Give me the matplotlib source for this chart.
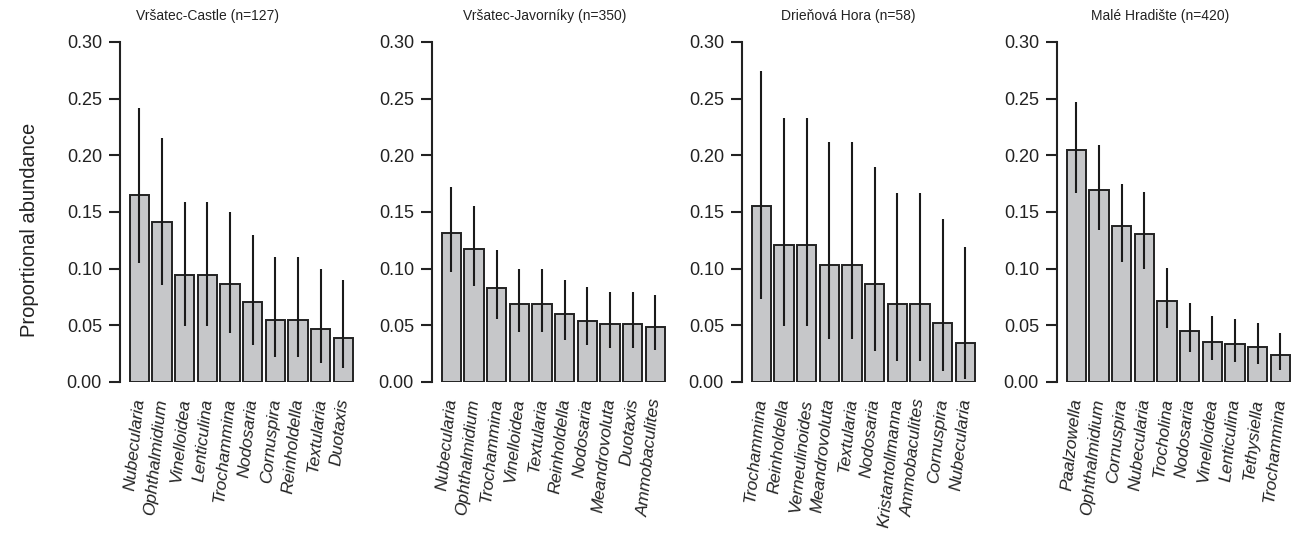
import matplotlib
matplotlib.use("Agg")
import matplotlib.pyplot as plt
import numpy as np

plt.rcParams['font.family'] = ['Liberation Sans', 'DejaVu Sans']

titles = ["Vršatec-Castle (n=127)", "Vršatec-Javorníky (n=350)",
          "Drieňová Hora (n=58)", "Malé Hradište (n=420)"]

genera_castle = ["Nubecularia", "Ophthalmidium", "Vinelloidea", "Lenticulina", "Trochammina",
                 "Nodosaria", "Cornuspira", "Reinholdella", "Textularia", "Duotaxis"]
mean_castle = [0.165, 0.1415, 0.0945, 0.0945, 0.0866, 0.0705, 0.0548, 0.0548, 0.0468, 0.039]
lo_castle = [0.105, 0.0855, 0.0493, 0.0493, 0.0432, 0.0323, 0.0217, 0.0217, 0.017, 0.012]
hi_castle = [0.242, 0.215, 0.159, 0.159, 0.150, 0.130, 0.110, 0.110, 0.100, 0.090]

genera_javor = ["Nubecularia", "Ophthalmidium", "Trochammina", "Vinelloidea", "Textularia",
                "Reinholdella", "Nodosaria", "Meandrovoluta", "Duotaxis", "Ammobaculites"]
mean_javor = [0.1315, 0.117, 0.083, 0.0685, 0.0685, 0.0597, 0.054, 0.0513, 0.0513, 0.0485]
lo_javor = [0.0972, 0.0845, 0.0555, 0.0437, 0.0437, 0.0367, 0.0323, 0.030, 0.030, 0.028]
hi_javor = [0.1717, 0.1556, 0.1168, 0.1001, 0.1001, 0.0904, 0.0837, 0.0798, 0.0798, 0.077]

genera_drien = ["Trochammina", "Reinholdella", "Verneulinoides", "Meandrovoluta", "Textularia",
                "Nodosaria", "Kristantollmanna", "Ammobaculites", "Cornuspira", "Nubecularia"]
mean_drien = [0.155, 0.1205, 0.1205, 0.1034, 0.1034, 0.0862, 0.069, 0.069, 0.0517, 0.0345]
lo_drien = [0.0731, 0.0493, 0.0493, 0.0379, 0.0379, 0.0276, 0.0182, 0.0182, 0.0097, 0.003]
hi_drien = [0.2745, 0.233, 0.233, 0.212, 0.212, 0.190, 0.167, 0.167, 0.144, 0.119]

genera_hrad = ["Paalzowella", "Ophthalmidium", "Cornuspira", "Nubecularia", "Trocholina",
               "Nodosaria", "Vinelloidea", "Lenticulina", "Tethysiella", "Trochammina"]
mean_hrad = [0.2048, 0.169, 0.138, 0.131, 0.0714, 0.045, 0.0357, 0.0333, 0.031, 0.0238]
lo_hrad = [0.1667, 0.1338, 0.1059, 0.0997, 0.0476, 0.0265, 0.0191, 0.0174, 0.0159, 0.0106]
hi_hrad = [0.247, 0.2088, 0.175, 0.1676, 0.1006, 0.0697, 0.0585, 0.0553, 0.0524, 0.0432]

panels = [
    (genera_castle, mean_castle, lo_castle, hi_castle),
    (genera_javor, mean_javor, lo_javor, hi_javor),
    (genera_drien, mean_drien, lo_drien, hi_drien),
    (genera_hrad, mean_hrad, lo_hrad, hi_hrad),
]

W, H = 1303, 552
fig = plt.figure(figsize=(W / 100, H / 100), dpi=100)

lefts_px = [120, 432, 742, 1057]
title_x_px = [208, 545, 848, 1160]
top_px, bot_px = 42, 382
width_px = 237

for i, (names, mean, lo, hi) in enumerate(panels):
    ax = fig.add_axes([lefts_px[i] / W, 1 - bot_px / H, width_px / W, (bot_px - top_px) / H])
    x = np.arange(len(names))
    ax.bar(x, mean, width=0.86, color="#c6c7c9", edgecolor="#222222", linewidth=1.4, zorder=2)
    ax.vlines(x, lo, hi, color="#1a1a1a", linewidth=1.5, zorder=3)
    ax.set_xlim(-0.85, 9.6)
    ax.set_ylim(0, 0.30)
    ax.set_yticks([0.0, 0.05, 0.10, 0.15, 0.20, 0.25, 0.30])
    ax.set_yticklabels(["0.00", "0.05", "0.10", "0.15", "0.20", "0.25", "0.30"])
    for s in ["top", "right", "bottom"]:
        ax.spines[s].set_visible(False)
    ax.spines["left"].set_linewidth(1.5)
    ax.spines["left"].set_color("#222222")
    ax.tick_params(axis="y", direction="out", length=8, width=1.5, color="#222222",
                   labelsize=13, pad=5, labelcolor="#222222")
    ax.set_xticks(x)
    ax.set_xticklabels(names, rotation=84, ha="right", va="center", rotation_mode="anchor",
                       fontstyle="italic", fontsize=12.5, color="#222222")
    ax.tick_params(axis="x", length=0, pad=12)
    ax.patch.set_visible(False)
    fig.text(title_x_px[i] / W, 1 - 16 / H, titles[i], ha="center", va="center",
             fontsize=10, color="#222222")

fig.text(30 / W, 1 - 230 / H, "Proportional abundance", rotation=90, ha="center", va="center",
         fontsize=14.5, color="#222222")

fig.savefig("out.png", dpi=100, facecolor="white")
